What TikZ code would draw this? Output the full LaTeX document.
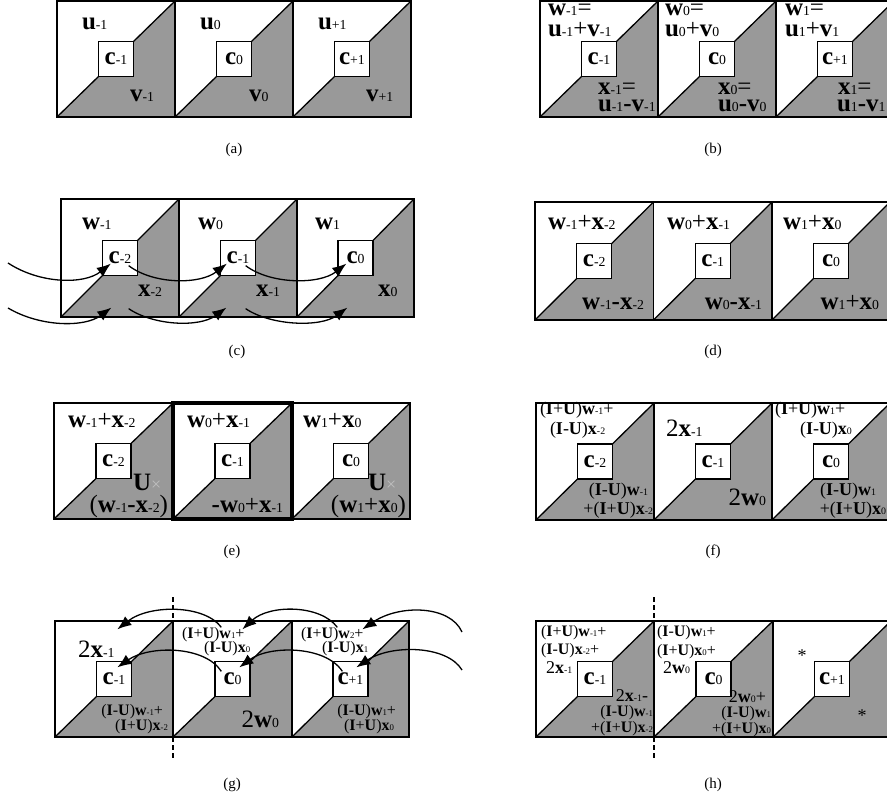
\documentclass[tikz,border=0pt]{standalone}
\usepackage{fontspec}
\setmainfont{Liberation Serif}
\usepackage{graphicx}
\usetikzlibrary{arrows.meta,calc}

\newcommand\fsz[1]{\fontsize{#1}{#1}\selectfont}
% bold vector with a reduced index on the baseline
\newcommand\vx[2]{\textbf{#1}\scalebox{0.55}{#2}}
\newcommand\IpU{(\textbf{I}+\textbf{U})}
\newcommand\ImU{(\textbf{I}-\textbf{U})}
\newcommand\bminus{\textbf{-}}

% one cell: left x, top y, width, height, name of the inner square, its label
\newcommand\panelcell[6]{%
  \pgfmathsetmacro\pcx{#1+#3/2}%
  \pgfmathsetmacro\pcy{#2+#4/2}%
  \fill[grayhalf] (#1,#2+#4) -- (\pcx-17.5,\pcy+17.5) -- (\pcx+17.5,\pcy+17.5)
     -- (\pcx+17.5,\pcy-17.5) -- (#1+#3,#2) -- (#1+#3,#2+#4) -- cycle;
  \draw[diagline] (#1,#2+#4) -- (\pcx-17.5,\pcy+17.5);
  \draw[diagline] (\pcx+17.5,\pcy-17.5) -- (#1+#3,#2);
  \node[cbox] (#5) at (\pcx,\pcy) {#6};
  \draw[cellframe] (#1,#2) rectangle (#1+#3,#2+#4);
}

\begin{document}
\begin{tikzpicture}[x=1pt,y=-1pt,
  grayhalf/.style={fill=black!40},
  diagline/.style={line width=1.3pt},
  cellframe/.style={line width=1.7pt},
  cbox/.style={draw, line width=1.3pt, fill=white, minimum width=35pt,
    minimum height=35pt, inner sep=0pt, font=\fsz{25}},
  txt/.style={inner sep=0pt, outer sep=0pt, text height=0.5em, text depth=0.05em},
  bigtxt/.style={txt, font=\fsz{25}},
  midtxt/.style={txt, font=\fsz{18}},
  ftxt/.style={txt, font=\fsz{18}},
  smalltxt/.style={txt, font=\fsz{16}},
  caption/.style={inner sep=0pt, font=\fsz{15}},
  flowarrow/.style={line width=1.3pt, -{Latex[length=14pt,width=11pt]}},
  cutline/.style={dashed, dash pattern=on 5pt off 3pt, line width=1.2pt}]
\useasboundingbox (0,0) rectangle (887,802);
\clip (0,0) rectangle (887,802);

% ---------------- (a)
\panelcell{57}{1}{118}{116}{ca1}{\vx{c}{-1}}
\panelcell{175}{1}{118}{116}{ca2}{\vx{c}{0}}
\panelcell{293}{1}{118}{116}{ca3}{\vx{c}{+1}}
\node[bigtxt, anchor=base west] (ua1) at (82,30) {\vx{u}{-1}};
\node[bigtxt, anchor=base west] (va1) at (130,102) {\vx{v}{-1}};
\node[bigtxt, anchor=base west] (ua2) at (200,30) {\vx{u}{0}};
\node[bigtxt, anchor=base west] (va2) at (249,102) {\vx{v}{0}};
\node[bigtxt, anchor=base west] (ua3) at (318,30) {\vx{u}{+1}};
\node[bigtxt, anchor=base west] (va3) at (366,102) {\vx{v}{+1}};
\node[caption] (capa) at (234,150) {(a)};

% ---------------- (b)
\panelcell{540}{1}{118}{116}{cb1}{\vx{c}{-1}}
\panelcell{658}{1}{118}{116}{cb2}{\vx{c}{0}}
\panelcell{776}{1}{118}{116}{cb3}{\vx{c}{+1}}
\node[bigtxt, anchor=base west] (wb1) at (548,16) {\vx{w}{-1}=};
\node[bigtxt, anchor=base west] (sb1) at (548,37) {\vx{u}{-1}+\vx{v}{-1}};
\node[bigtxt, anchor=base west] (xb1) at (598,95) {\vx{x}{-1}=};
\node[bigtxt, anchor=base west] (db1) at (598,112) {\vx{u}{-1}\bminus\vx{v}{-1}};
\node[bigtxt, anchor=base west] (wb2) at (665,16) {\vx{w}{0}=};
\node[bigtxt, anchor=base west] (sb2) at (665,37) {\vx{u}{0}+\vx{v}{0}};
\node[bigtxt, anchor=base west] (xb2) at (718,95) {\vx{x}{0}=};
\node[bigtxt, anchor=base west] (db2) at (718,112) {\vx{u}{0}\bminus\vx{v}{0}};
\node[bigtxt, anchor=base west] (wb3) at (785,16) {\vx{w}{1}=};
\node[bigtxt, anchor=base west] (sb3) at (785,37) {\vx{u}{1}+\vx{v}{1}};
\node[bigtxt, anchor=base west] (xb3) at (838,95) {\vx{x}{1}=};
\node[bigtxt, anchor=base west] (db3) at (837,112) {\vx{u}{1}\bminus\vx{v}{1}};
\node[caption] (capb) at (713,150) {(b)};

% ---------------- (c)
\panelcell{61}{199}{118}{118}{cc1}{\vx{c}{-2}}
\panelcell{179}{199}{118}{118}{cc2}{\vx{c}{-1}}
\panelcell{297}{199}{117}{118}{cc3}{\vx{c}{0}}
\node[bigtxt, anchor=base west] (wc1) at (82,230) {\vx{w}{-1}};
\node[bigtxt, anchor=base west] (wc2) at (198,230) {\vx{w}{0}};
\node[bigtxt, anchor=base west] (wc3) at (315,230) {\vx{w}{1}};
\node[bigtxt, anchor=base west] (xc1) at (138,297) {\vx{x}{-2}};
\node[bigtxt, anchor=base west] (xc2) at (256,297) {\vx{x}{-1}};
\node[bigtxt, anchor=base west] (xc3) at (378,297) {\vx{x}{0}};
\coordinate (cinA) at (8,263);
\coordinate (cinB) at (8,308);
\draw[flowarrow] (cinA) .. controls +(32,21) and +(-27,21) .. ([shift={(9,-12.5)}]cc1.south west);
\draw[flowarrow] ([shift={(-9.5,-10.5)}]cc1.south east) .. controls +(25,19) and +(-27,21) .. ([shift={(7,-12.5)}]cc2.south west);
\draw[flowarrow] ([shift={(-10.5,-10.5)}]cc2.south east) .. controls +(25,19) and +(-27,21) .. ([shift={(9,-12.5)}]cc3.south west);
\draw[flowarrow] (cinB) .. controls +(32,19) and +(-27,20) .. ([shift={(9.5,31.5)}]cc1.south west);
\draw[flowarrow] ([shift={(-9.5,32.5)}]cc1.south east) .. controls +(25,17) and +(-27,20) .. ([shift={(6.5,31.5)}]cc2.south west);
\draw[flowarrow] ([shift={(-10.5,32.5)}]cc2.south east) .. controls +(25,17) and +(-27,20) .. ([shift={(10,31.5)}]cc3.south west);
\node[caption] (capc) at (237,352) {(c)};

% ---------------- (d)
\panelcell{535}{202}{118.5}{118}{cd1}{\vx{c}{-2}}
\panelcell{653.5}{202}{118.5}{118}{cd2}{\vx{c}{-1}}
\panelcell{772}{202}{118}{118}{cd3}{\vx{c}{0}}
\node[bigtxt, anchor=base west] (td1) at (548,230) {\vx{w}{-1}+\vx{x}{-2}};
\node[bigtxt, anchor=base west] (td2) at (667,230) {\vx{w}{0}+\vx{x}{-1}};
\node[bigtxt, anchor=base west] (td3) at (783,230) {\vx{w}{1}+\vx{x}{0}};
\node[bigtxt, anchor=base east] (bd1) at (644,310) {\vx{w}{-1}\bminus\vx{x}{-2}};
\node[bigtxt, anchor=base east] (bd2) at (762,310) {\vx{w}{0}\bminus\vx{x}{-1}};
\node[bigtxt, anchor=base east] (bd3) at (879,310) {\vx{w}{1}+\vx{x}{0}};
\node[caption] (capd) at (713,352) {(d)};

% ---------------- (e)
\panelcell{54}{403}{119}{116}{ce1}{\vx{c}{-2}}
\panelcell{173}{403}{119}{116}{ce2}{\vx{c}{-1}}
\panelcell{292}{403}{118}{116}{ce3}{\vx{c}{0}}
\draw[line width=3.6pt] (173,403) rectangle (292,519);
\node[bigtxt, anchor=base west] (te1) at (68,428) {\vx{w}{-1}+\vx{x}{-2}};
\node[bigtxt, anchor=base west] (te2) at (187,428) {\vx{w}{0}+\vx{x}{-1}};
\node[bigtxt, anchor=base west] (te3) at (303,428) {\vx{w}{1}+\vx{x}{0}};
\node[bigtxt, anchor=base west] (me1) at (133,490) {\textbf{U}{\color{black!25}\fsz{18}×}};
\node[bigtxt, anchor=base west] (me3) at (368,490) {\textbf{U}{\color{black!25}\fsz{18}×}};
\node[bigtxt, anchor=base east] (be1) at (168,512) {(\vx{w}{-1}\bminus\vx{x}{-2})};
\node[bigtxt, anchor=base east] (be2) at (283,512) {\bminus\vx{w}{0}+\vx{x}{-1}};
\node[bigtxt, anchor=base east] (be3) at (406,512) {(\vx{w}{1}+\vx{x}{0})};
\node[caption] (cape) at (232,552) {(e)};

% ---------------- (f)
\panelcell{536}{403}{118}{117}{cf1}{\vx{c}{-2}}
\panelcell{654}{403}{118}{117}{cf2}{\vx{c}{-1}}
\panelcell{772}{403}{118}{117}{cf3}{\vx{c}{0}}
\node[ftxt, anchor=base west] (fa1) at (540,415) {\IpU\vx{w}{-1}+};
\node[ftxt, anchor=base west] (fb1) at (550,435) {\ImU\vx{x}{-2}};
\node[ftxt, anchor=base east] (fc1) at (648,496) {\ImU\vx{w}{-1}};
\node[ftxt, anchor=base east] (fd1) at (653,514) {+\IpU\vx{x}{-2}};
\node[bigtxt, anchor=base west] (fa2) at (666,437) {2\vx{x}{-1}};
\node[bigtxt, anchor=base east] (fb2) at (766,505) {2\vx{w}{0}};
\node[ftxt, anchor=base west] (fa3) at (775,415) {\IpU\vx{w}{1}+};
\node[ftxt, anchor=base west] (fb3) at (800,435) {\ImU\vx{x}{0}};
\node[ftxt, anchor=base east] (fc3) at (876,496) {\ImU\vx{w}{1}};
\node[ftxt, anchor=base east] (fd3) at (886,514) {+\IpU\vx{x}{0}};
\node[caption] (capf) at (713,552) {(f)};

% ---------------- (g)
\panelcell{55}{621}{118}{116}{gc1}{\vx{c}{-1}}
\panelcell{173}{621}{119}{116}{gc2}{\vx{c}{0}}
\panelcell{292}{621}{117}{116}{gc3}{\vx{c}{+1}}
\node[bigtxt, anchor=base west] (ga1) at (78,657) {2\vx{x}{-1}};
\node[smalltxt, anchor=base east] (gb1) at (163,715) {\ImU\vx{w}{-1}+};
\node[smalltxt, anchor=base east] (gd1) at (168,730) {\IpU\vx{x}{-2}};
\node[smalltxt, anchor=base west] (ga2) at (182,638) {\IpU\vx{w}{1}+};
\node[smalltxt, anchor=base west] (gb2) at (204,652) {\ImU\vx{x}{0}};
\node[bigtxt, anchor=base east] (gd2) at (279,727) {2\vx{w}{0}};
\node[smalltxt, anchor=base west] (ga3) at (301,638) {\IpU\vx{w}{2}+};
\node[smalltxt, anchor=base west] (gb3) at (322,652) {\ImU\vx{x}{1}};
\node[smalltxt, anchor=base east] (gc3t) at (396,715) {\ImU\vx{w}{1}+};
\node[smalltxt, anchor=base east] (gd3) at (394,730) {\IpU\vx{x}{0}};
\draw[cutline] (173,597) -- (173,621);
\draw[cutline] (173,737) -- (173,760);
\coordinate (ginA) at (462,632);
\coordinate (ginB) at (462,670);
\draw[flowarrow] (ginA) .. controls +(-12,-27) and +(37,-25) .. ([shift={(30,-31.5)}]gc3.north west);
\draw[flowarrow] ([shift={(5,-33.5)}]gc3.north west) .. controls +(-17,-23) and +(27,-25) .. ([shift={(28,-31.5)}]gc2.north west);
\draw[flowarrow] ([shift={(7,-33.5)}]gc2.north west) .. controls +(-17,-23) and +(32,-25) .. ([shift={(21.5,-31.5)}]gc1.north west);
\draw[flowarrow] (ginB) .. controls +(-15,-25) and +(35,-23) .. ([shift={(24,6.5)}]gc3.north west);
\draw[flowarrow] ([shift={(10,10.5)}]gc3.north west) .. controls +(-17,-26) and +(30,-22) .. ([shift={(25,6.5)}]gc2.north west);
\draw[flowarrow] ([shift={(7,10.5)}]gc2.north west) .. controls +(-17,-26) and +(32,-22) .. ([shift={(21.5,6.5)}]gc1.north west);
\node[caption] (capg) at (232,785) {(g)};

% ---------------- (h)
\panelcell{536}{621}{118}{116}{hc1}{\vx{c}{-1}}
\panelcell{654}{621}{119}{116}{hc2}{\vx{c}{0}}
\panelcell{773}{621}{118}{116}{hc3}{\vx{c}{+1}}
\node[smalltxt, anchor=base west] (ha1) at (541,636) {\IpU\vx{w}{-1}+};
\node[smalltxt, anchor=base west] (hb1) at (541,654) {\ImU\vx{x}{-2}+};
\node[midtxt, anchor=base west] (hc1t) at (546,673) {2\vx{x}{-1}};
\node[midtxt, anchor=base east] (hd1) at (648,701) {2\vx{x}{-1}-};
\node[smalltxt, anchor=base east] (he1) at (653,716) {\ImU\vx{w}{-1}};
\node[smalltxt, anchor=base east] (hf1) at (653,732) {+\IpU\vx{x}{-2}};
\node[smalltxt, anchor=base west] (ha2) at (657,636) {\ImU\vx{w}{1}+};
\node[smalltxt, anchor=base west] (hb2) at (657,655) {\IpU\vx{x}{0}+};
\node[midtxt, anchor=base west] (hc2t) at (663,673) {2\vx{w}{0}};
\node[midtxt, anchor=base east] (hd2) at (766,702) {2\vx{w}{0}+};
\node[smalltxt, anchor=base east] (he2) at (771,717) {\ImU\vx{w}{1}};
\node[smalltxt, anchor=base east] (hf2) at (771,733) {+\IpU\vx{x}{0}};
\node[midtxt, anchor=base] (hs1) at (802,661) {*};
\node[midtxt, anchor=base] (hs2) at (862,721) {*};
\draw[cutline] (654,597) -- (654,621);
\draw[cutline] (654,737) -- (654,760);
\node[caption] (caph) at (713,785) {(h)};
\end{tikzpicture}
\end{document}
